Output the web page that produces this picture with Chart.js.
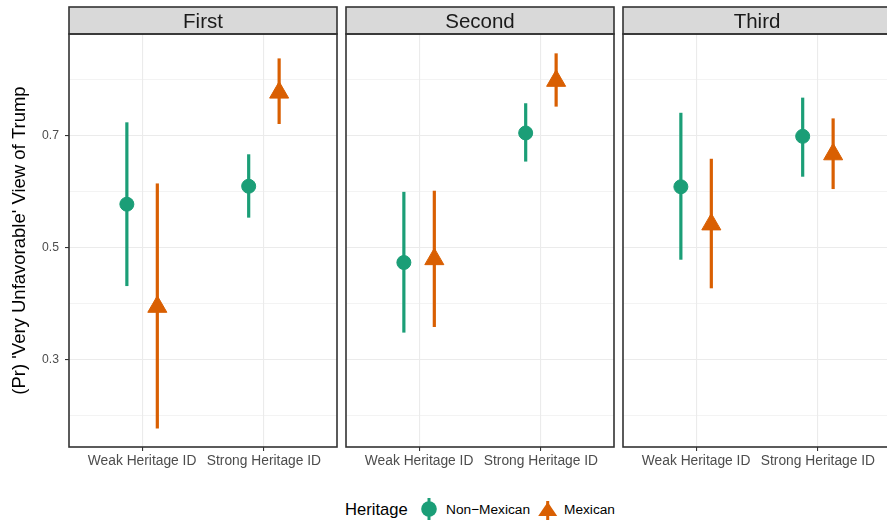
<!DOCTYPE html>
<html>
<head>
<meta charset="utf-8">
<script src="https://cdn.jsdelivr.net/npm/chart.js@4.4.1/dist/chart.umd.min.js"></script>
<style>
  html, body { margin: 0; padding: 0; background: #fff; overflow: hidden; }
  #wrap { position: relative; width: 887px; height: 521px; overflow: hidden; font-family: 'Liberation Sans', Arial, sans-serif; }
  #wrap canvas { position: absolute; top: 0; }
  .lg { position: absolute; top: 500px; line-height: 20px; white-space: nowrap; color: #000; }
  .lg svg { position: absolute; }
</style>
</head>
<body>
<div id="wrap">
  <canvas id="panel-0" width="340" height="480" style="left:0px"></canvas>
  <canvas id="panel-1" width="277" height="480" style="left:340px"></canvas>
  <canvas id="panel-2" width="277" height="480" style="left:617px"></canvas>

  <span class="lg" style="left:345px; font-size:16.6px;">Heritage</span>
  <svg class="lg" style="left:418px; top:497px;" width="22" height="24">
    <line x1="11" y1="1" x2="11" y2="23" stroke="#1B9E77" stroke-width="3"></line>
    <circle cx="11" cy="12" r="7.8" fill="#1B9E77"></circle>
  </svg>
  <span class="lg" style="left:446px; font-size:13.7px;">Non−Mexican</span>
  <svg class="lg" style="left:537px; top:497px;" width="22" height="24">
    <line x1="10.7" y1="4" x2="10.7" y2="23" stroke="#D95F02" stroke-width="3"></line>
    <polygon points="10.7,5 20.2,19 1.2,19" fill="#D95F02"></polygon>
  </svg>
  <span class="lg" style="left:564px; font-size:13.7px;">Mexican</span>
</div>

<script>
'use strict';

// ── Data ─────────────────────────────────────────────────────────────
var panels     = ['First', 'Second', 'Third'];
var categories = ['Weak Heritage ID', 'Strong Heritage ID'];

// one row per panel, [weak, strong]
var nonMexEst = [[0.577, 0.609], [0.473, 0.704], [0.608, 0.698]];
var nonMexLo  = [[0.431, 0.553], [0.348, 0.653], [0.478, 0.626]];
var nonMexHi  = [[0.723, 0.666], [0.599, 0.757], [0.740, 0.767]];

var mexEst    = [[0.394, 0.776], [0.479, 0.797], [0.541, 0.666]];
var mexLo     = [[0.177, 0.720], [0.358, 0.751], [0.427, 0.604]];
var mexHi     = [[0.614, 0.837], [0.601, 0.846], [0.658, 0.730]];

var yMajorTicks = [0.3, 0.5, 0.7];
var yMinorTicks = [0.2, 0.4, 0.6, 0.8];
var yRange      = [0.144, 0.8805];

var colorNonMex = '#1B9E77';
var colorMex    = '#D95F02';
var fontFamily  = "'Liberation Sans', Arial, sans-serif";
var dodge       = 0.125;

Chart.defaults.font.family = fontFamily;

// strip background + panel borders, ggplot theme_bw style
var facetFrame = {
    id: 'facetFrame',
    beforeDraw: function (chart) {
        var t = chart.titleBlock, ctx = chart.ctx;
        ctx.save();
        ctx.fillStyle = '#D9D9D9';
        ctx.fillRect(t.left, t.top, t.width, t.height);
        ctx.restore();
    },
    afterDraw: function (chart) {
        var t = chart.titleBlock, a = chart.chartArea, ctx = chart.ctx;
        ctx.save();
        ctx.strokeStyle = '#333333';
        ctx.lineWidth = 1.6;
        ctx.strokeRect(t.left, t.top, t.width, t.height);
        ctx.strokeRect(a.left, a.top, a.right - a.left, a.bottom - a.top);
        ctx.restore();
    }
};

function errorBar(x, lo, hi, color) {
    return {
        data: [{ x: x, y: lo }, { x: x, y: hi }],
        showLine: true,
        borderColor: color,
        borderWidth: 3.2,
        borderCapStyle: 'butt',
        pointRadius: 0,
        order: 2
    };
}

function buildPanel(p) {
    var first = p === 0;
    var datasets = [];

    for (var c = 0; c < categories.length; c++) {
        datasets.push(errorBar(c + 1 - dodge, nonMexLo[p][c], nonMexHi[p][c], colorNonMex));
        datasets.push(errorBar(c + 1 + dodge, mexLo[p][c], mexHi[p][c], colorMex));
    }

    datasets.push({
        label: 'Non−Mexican',
        data: nonMexEst[p].map(function (v, c) { return { x: c + 1 - dodge, y: v }; }),
        pointStyle: 'circle',
        pointRadius: 7,
        pointBorderWidth: 1,
        backgroundColor: colorNonMex,
        borderColor: colorNonMex,
        order: 0
    });
    datasets.push({
        label: 'Mexican',
        data: mexEst[p].map(function (v, c) { return { x: c + 1 + dodge, y: v }; }),
        pointStyle: 'triangle',
        pointRadius: 11,
        pointBorderWidth: 1,
        backgroundColor: colorMex,
        borderColor: colorMex,
        order: 0
    });

    new Chart(document.getElementById('panel-' + p), {
        type: 'scatter',
        data: { datasets: datasets },
        plugins: [facetFrame],
        options: {
            responsive: false,
            animation: false,
            events: [],
            layout: { autoPadding: false, padding: { left: first ? 0 : 6, right: 3, top: 7, bottom: 0 } },
            plugins: {
                legend: { display: false },
                tooltip: { enabled: false },
                title: {
                    display: true,
                    text: panels[p],
                    fullSize: false,
                    padding: { top: 3, bottom: 0 },
                    color: '#1A1A1A',
                    font: { size: 20.5, weight: 'normal', lineHeight: '24px' }
                }
            },
            scales: {
                x: {
                    type: 'linear',
                    min: 0.4,
                    max: 2.6,
                    afterBuildTicks: function (s) {
                        s.ticks = categories.map(function (n, i) { return { value: i + 1 }; });
                    },
                    afterFit: function (s) { s.height = 33; },
                    ticks: {
                        autoSkip: false,
                        maxRotation: 0,
                        padding: 2,
                        color: '#4D4D4D',
                        font: { size: 13.8 },
                        callback: function (v) { return categories[v - 1]; }
                    },
                    grid: { color: '#EBEBEB', lineWidth: 1.1, tickLength: 4, tickColor: '#333333' },
                    border: { display: false }
                },
                y: {
                    min: yRange[0],
                    max: yRange[1],
                    afterBuildTicks: function (s) {
                        s.ticks = yMajorTicks.concat(yMinorTicks).sort().map(function (v) { return { value: v }; });
                    },
                    afterFit: function (s) { s.width = first ? 69 : 0; },
                    title: {
                        display: first,
                        text: "(Pr) 'Very Unfavorable' View of Trump",
                        color: '#000',
                        padding: { top: 9, bottom: 0 },
                        font: { size: 18.5 }
                    },
                    ticks: {
                        display: first,
                        padding: 6,
                        color: '#4D4D4D',
                        font: { size: 12.2 },
                        callback: function (v) {
                            return yMajorTicks.indexOf(v) >= 0 ? v.toFixed(1) : '';
                        }
                    },
                    grid: {
                        color: '#EBEBEB',
                        drawTicks: first,
                        tickLength: 4,
                        lineWidth: function (ctx) {
                            return ctx.tick && yMajorTicks.indexOf(ctx.tick.value) >= 0 ? 1.1 : 0.6;
                        },
                        tickColor: function (ctx) {
                            return ctx.tick && yMajorTicks.indexOf(ctx.tick.value) >= 0 ? '#333333' : 'rgba(0,0,0,0)';
                        }
                    },
                    border: { display: false }
                }
            }
        }
    });
}

for (var p = 0; p < panels.length; p++) buildPanel(p);
</script>
</body>
</html>
